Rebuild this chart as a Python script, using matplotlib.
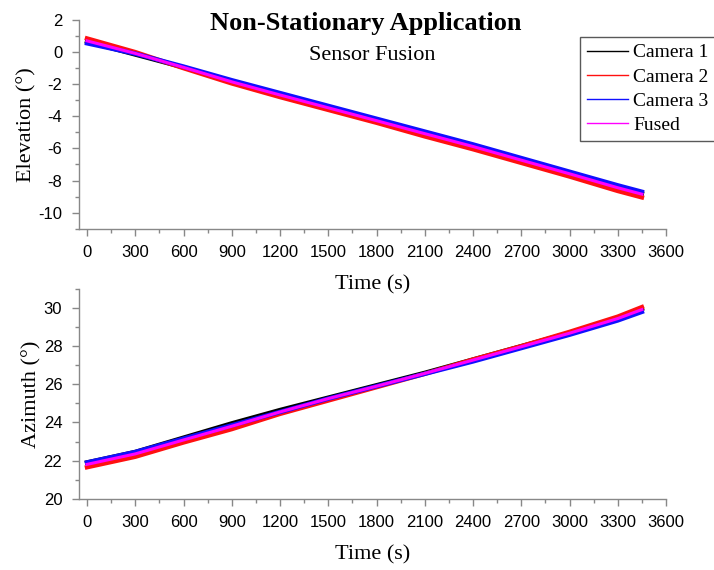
import matplotlib
matplotlib.use("Agg")
import matplotlib.pyplot as plt
from matplotlib.ticker import MultipleLocator

plt.rcParams["axes.unicode_minus"] = False

# sampled readings along the run (s)
time_s = [0, 300, 600, 900, 1200, 1500, 1800, 2100, 2400, 2700, 3000, 3300, 3450]

elev_cam1 = [0.65, -0.15, -0.95, -1.85, -2.65, -3.45, -4.25, -5.05, -5.85, -6.7, -7.55, -8.4, -8.8]
elev_cam2 = [0.85, 0.0, -1.0, -1.95, -2.8, -3.6, -4.4, -5.25, -6.05, -6.9, -7.75, -8.65, -9.05]
elev_cam3 = [0.55, -0.1, -0.9, -1.75, -2.55, -3.35, -4.15, -4.95, -5.75, -6.6, -7.45, -8.3, -8.7]
elev_fused = [0.7, -0.08, -0.95, -1.85, -2.67, -3.47, -4.27, -5.08, -5.88, -6.73, -7.58, -8.45, -8.85]

azim_cam1 = [21.9, 22.45, 23.2, 23.95, 24.65, 25.3, 25.95, 26.6, 27.3, 28.0, 28.7, 29.45, 29.95]
azim_cam2 = [21.65, 22.2, 22.95, 23.65, 24.45, 25.15, 25.85, 26.55, 27.3, 28.0, 28.75, 29.55, 30.05]
azim_cam3 = [21.9, 22.45, 23.15, 23.85, 24.55, 25.25, 25.9, 26.55, 27.2, 27.9, 28.6, 29.35, 29.8]
azim_fused = [21.8, 22.35, 23.08, 23.8, 24.55, 25.25, 25.9, 26.57, 27.27, 27.97, 28.68, 29.45, 29.92]

serif = "Liberation Serif"
sans = "Liberation Sans"

fig = plt.figure(figsize=(7.14, 5.70), dpi=100)
ax1 = fig.add_axes([0.1106, 0.5988, 0.8222, 0.3661])
ax2 = fig.add_axes([0.1106, 0.1251, 0.8222, 0.3679])

lw_cam = 3.2
lw_fused = 2.2


def style_axis(ax, ylim, ylabel):
    ax.set_xlim(-50, 3600)
    ax.set_ylim(ylim)
    for side in ("top", "right"):
        ax.spines[side].set_visible(False)
    for side in ("left", "bottom"):
        ax.spines[side].set_color("#888888")
        ax.spines[side].set_linewidth(1.0)
    ax.xaxis.set_major_locator(MultipleLocator(300))
    ax.xaxis.set_minor_locator(MultipleLocator(150))
    ax.yaxis.set_major_locator(MultipleLocator(2))
    ax.yaxis.set_minor_locator(MultipleLocator(1))
    ax.tick_params(which="major", direction="out", length=5, width=1.0,
                   color="#888888", labelsize=12, pad=7)
    ax.tick_params(which="minor", direction="out", length=2.8, width=1.0,
                   color="#888888")
    for lab in ax.get_xticklabels() + ax.get_yticklabels():
        lab.set_fontfamily(sans)
    ax.set_xlabel("Time (s)", fontfamily=serif, fontsize=16, labelpad=11)
    ax.set_ylabel(ylabel, fontfamily=serif, fontsize=16, labelpad=1.5)
    ax.patch.set_visible(False)


ax1.plot(time_s, elev_cam1, color="black", lw=lw_cam, label="Camera 1")
ax1.plot(time_s, elev_cam2, color="#ff1010", lw=lw_cam, label="Camera 2")
ax1.plot(time_s, elev_cam3, color="#1010ff", lw=lw_cam, label="Camera 3")
ax1.plot(time_s, elev_fused, color="#ff00ff", lw=lw_fused, label="Fused")
style_axis(ax1, (-11, 2), "Elevation (°)")
ax1.set_yticks([2, 0, -2, -4, -6, -8, -10])

ax2.plot(time_s, azim_cam1, color="black", lw=lw_cam)
ax2.plot(time_s, azim_cam2, color="#ff1010", lw=lw_cam)
ax2.plot(time_s, azim_cam3, color="#1010ff", lw=lw_cam)
ax2.plot(time_s, azim_fused, color="#ff00ff", lw=lw_fused)
style_axis(ax2, (20, 31), "Azimuth (°)")
ax2.set_yticks([20, 22, 24, 26, 28, 30])

fig.text(0.5125, 0.959, "Non-Stationary Application", ha="center", va="center",
         fontfamily=serif, fontweight="bold", fontsize=19)
fig.text(0.521, 0.903, "Sensor Fusion", ha="center", va="center",
         fontfamily=serif, fontsize=16)

handles, labels = ax1.get_legend_handles_labels()
leg = fig.legend(handles, labels, loc="upper left",
                 bbox_to_anchor=(580 / 714, 1 - 37 / 570),
                 prop={"family": serif, "size": 14}, frameon=True,
                 fancybox=False, borderpad=0.35, handlelength=2.1,
                 handletextpad=0.3, labelspacing=0.34, borderaxespad=0)
leg.get_frame().set_edgecolor("#303030")
leg.get_frame().set_linewidth(1.0)
for line in leg.get_lines():
    line.set_linewidth(1.0)

fig.savefig("out.png", dpi=100)
